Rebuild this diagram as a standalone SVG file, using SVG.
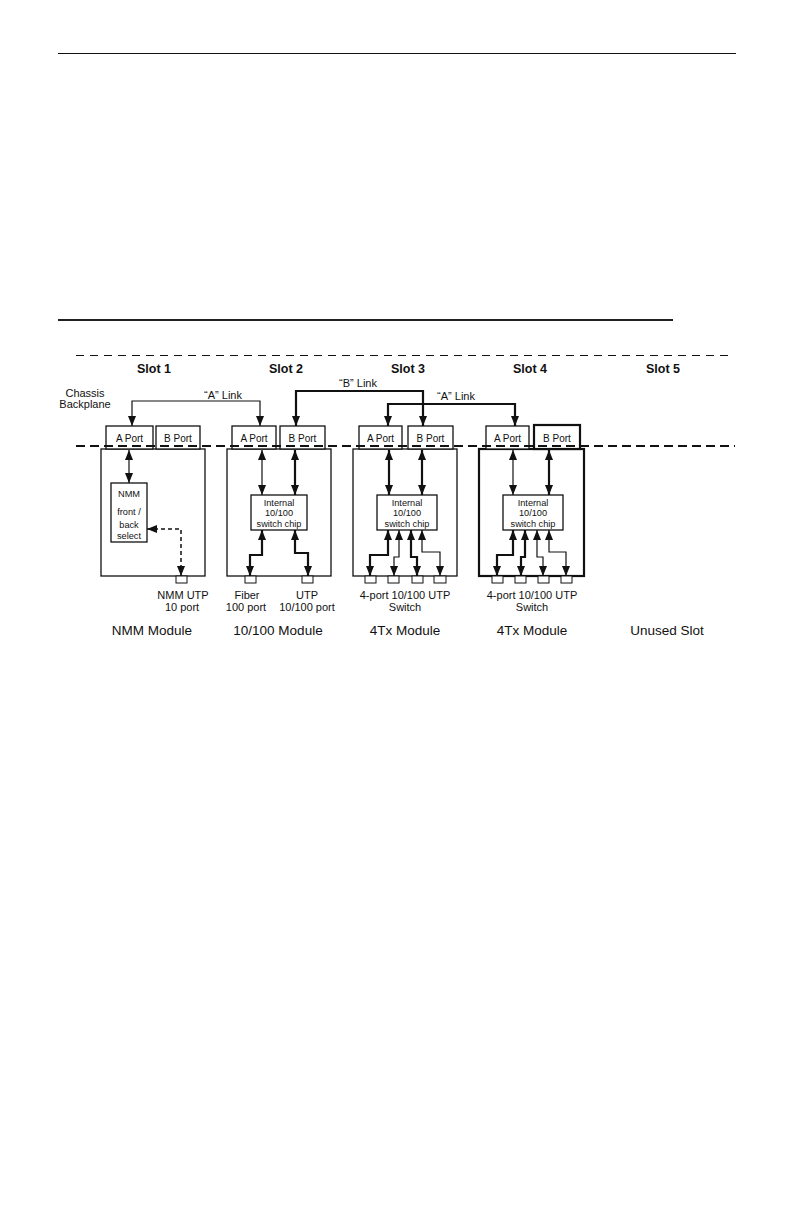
<svg xmlns="http://www.w3.org/2000/svg" width="793" height="1225" viewBox="0 0 793 1225">
<defs>
<marker id="ah" viewBox="0 0 10 8" refX="10" refY="4" markerWidth="10" markerHeight="8" markerUnits="userSpaceOnUse" orient="auto-start-reverse">
<path d="M0,0 L10,4 L0,8 z" fill="#111"/>
</marker>
</defs>
<style>
text{font-family:"Liberation Sans",Arial,sans-serif;fill:#111;text-anchor:middle}
.slot{font-size:12.5px;font-weight:bold}
.lbl{font-size:11px}
.mod{font-size:13.5px}
.port{font-size:10px}
.chip{font-size:9.2px}
.box{fill:#fff;stroke:#111;stroke-width:1.3}
.boxk{fill:#fff;stroke:#111;stroke-width:2.2}
.pbox{fill:#fff;stroke:#111;stroke-width:1}
.thin{fill:none;stroke:#111;stroke-width:1.2;marker-start:url(#ah);marker-end:url(#ah)}
.thick{fill:none;stroke:#111;stroke-width:2.2;marker-start:url(#ah);marker-end:url(#ah)}
.dash{fill:none;stroke:#111;stroke-width:1.5;stroke-dasharray:4 3;marker-start:url(#ah);marker-end:url(#ah)}
</style>
<rect width="793" height="1225" fill="#fff"/>
<line x1="58" y1="53.5" x2="736" y2="53.5" stroke="#111" stroke-width="1"/>
<line x1="58" y1="320" x2="673" y2="320" stroke="#231f20" stroke-width="2"/>

<g id="backplane">
<line x1="76" y1="355.5" x2="733" y2="355.5" stroke="#111" stroke-width="1.1" stroke-dasharray="8 6"/>
<text class="slot" x="154" y="373">Slot 1</text>
<text class="slot" x="286" y="373">Slot 2</text>
<text class="slot" x="408" y="373">Slot 3</text>
<text class="slot" x="530" y="373">Slot 4</text>
<text class="slot" x="663" y="373">Slot 5</text>
<text class="lbl" x="85" y="397">Chassis</text>
<text class="lbl" x="85" y="408">Backplane</text>
</g>

<g id="slot1">
<rect class="box" x="101" y="449" width="104" height="127"/>
<rect class="pbox" x="176" y="576" width="11" height="7"/>
<rect class="box" x="106" y="426" width="47" height="23"/>
<text class="port" x="129.5" y="442">A Port</text>
<rect class="box" x="156" y="426" width="44" height="23"/>
<text class="port" x="178" y="442">B Port</text>
<rect class="box" x="111" y="483" width="36" height="59"/>
<text class="chip" x="129" y="497">NMM</text>
<text class="chip" x="129" y="515">front /</text>
<text class="chip" x="129" y="528">back</text>
<text class="chip" x="129" y="539">select</text>
<text class="lbl" x="183" y="599">NMM UTP</text>
<text class="lbl" x="182" y="611">10 port</text>
<text class="mod" x="152" y="635">NMM Module</text>
</g>

<g id="slot2">
<rect class="box" x="227" y="449" width="104" height="127"/>
<rect class="pbox" x="245" y="576" width="11" height="7"/>
<rect class="pbox" x="302" y="576" width="11" height="7"/>
<rect class="box" x="232" y="426" width="44" height="23"/>
<text class="port" x="254" y="442">A Port</text>
<rect class="box" x="280" y="426" width="45" height="23"/>
<text class="port" x="302.5" y="442">B Port</text>
<rect class="box" x="251" y="495" width="56" height="35"/>
<text class="chip" x="279" y="506">Internal</text>
<text class="chip" x="279" y="516">10/100</text>
<text class="chip" x="279" y="527">switch chip</text>
<text class="lbl" x="247" y="599">Fiber</text>
<text class="lbl" x="246" y="611">100 port</text>
<text class="lbl" x="307" y="599">UTP</text>
<text class="lbl" x="307" y="611">10/100 port</text>
<text class="mod" x="278" y="635">10/100 Module</text>
</g>

<g id="slot3">
<rect class="box" x="353" y="449" width="104" height="127"/>
<rect class="pbox" x="365" y="576" width="11" height="7"/>
<rect class="pbox" x="388" y="576" width="11" height="7"/>
<rect class="pbox" x="412" y="576" width="11" height="7"/>
<rect class="pbox" x="434" y="576" width="12" height="7"/>
<rect class="box" x="359" y="426" width="43" height="23"/>
<text class="port" x="380.5" y="442">A Port</text>
<rect class="box" x="408" y="426" width="45" height="23"/>
<text class="port" x="430.5" y="442">B Port</text>
<rect class="box" x="377" y="495" width="60" height="35"/>
<text class="chip" x="407" y="506">Internal</text>
<text class="chip" x="407" y="516">10/100</text>
<text class="chip" x="407" y="527">switch chip</text>
<text class="lbl" x="405" y="599">4-port 10/100 UTP</text>
<text class="lbl" x="405" y="611">Switch</text>
<text class="mod" x="405" y="635">4Tx Module</text>
</g>

<g id="slot4">
<rect class="boxk" x="479" y="449" width="105" height="127"/>
<rect class="pbox" x="492" y="576" width="11" height="7"/>
<rect class="pbox" x="515" y="576" width="11" height="7"/>
<rect class="pbox" x="538" y="576" width="11" height="7"/>
<rect class="pbox" x="561" y="576" width="11" height="7"/>
<rect class="box" x="486" y="426" width="43" height="23"/>
<text class="port" x="507.5" y="442">A Port</text>
<rect class="boxk" x="534" y="425" width="46" height="24"/>
<text class="port" x="557" y="442">B Port</text>
<rect class="box" x="503" y="495" width="60" height="35"/>
<text class="chip" x="533" y="506">Internal</text>
<text class="chip" x="533" y="516">10/100</text>
<text class="chip" x="533" y="527">switch chip</text>
<text class="lbl" x="532" y="599">4-port 10/100 UTP</text>
<text class="lbl" x="532" y="611">Switch</text>
<text class="mod" x="532" y="635">4Tx Module</text>
</g>

<g id="slot5">
<text class="mod" x="667" y="635">Unused Slot</text>
</g>

<line x1="76" y1="446" x2="735" y2="446" stroke="#111" stroke-width="2.2" stroke-dasharray="9 5"/>

<g id="connectors">
<path class="thin" d="M132,426 V401 H260 V426"/>
<text class="lbl" x="223" y="399">“A” Link</text>
<path class="thick" d="M296,426 V391 H423 V426"/>
<text class="lbl" x="358" y="387">“B” Link</text>
<path class="thick" d="M388,426 V404 H515 V426"/>
<text class="lbl" x="456" y="400">“A” Link</text>

<path class="thin" d="M129,450 V483"/>
<path class="dash" d="M147,529 H181 V576"/>

<path class="thin" d="M262,450 V495"/>
<path class="thick" d="M295,450 V495"/>
<path class="thick" d="M262,530 V555 H250 V576"/>
<path class="thick" d="M295,530 V553 H308 V576"/>

<path class="thick" d="M389,450 V495"/>
<path class="thick" d="M422,450 V495"/>
<path class="thick" d="M388,530 V555 H370 V576"/>
<path class="thin" d="M399,530 V557 H394 V576"/>
<path class="thick" d="M411,530 V557 H417 V576"/>
<path class="thin" d="M422,530 V552 H440 V576"/>

<path class="thin" d="M513,450 V495"/>
<path class="thick" d="M549,450 V495"/>
<path class="thick" d="M513,530 V555 H497 V576"/>
<path class="thick" d="M525,530 V557 H521 V576"/>
<path class="thin" d="M537,530 V557 H543 V576"/>
<path class="thin" d="M549,530 V552 H566 V576"/>
</g>
</svg>
